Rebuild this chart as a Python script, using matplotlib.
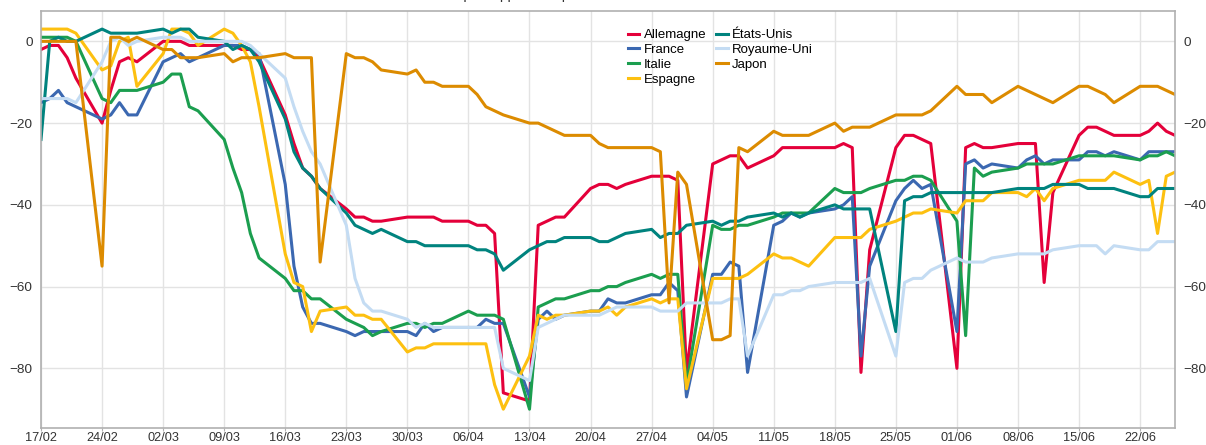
import matplotlib
matplotlib.use("Agg")
import matplotlib.pyplot as plt
import matplotlib.dates as mdates
import pandas as pd

plt.rcParams["font.family"] = ["Liberation Sans", "DejaVu Sans"]

# jours ouvrés du 17/02 au 26/06 (une ligne = une semaine)
dates = pd.bdate_range("2020-02-17", "2020-06-26")

allemagne = [-2, -1, -1, -4, -9,
             -20, -12, -5, -4, -5,
             0, 0, 0, -1, -1,
             -1, -1, -2, -2, -4,
             -18, -25, -31, -33, -36,
             -41, -43, -43, -44, -44,
             -43, -43, -43, -43, -44,
             -44, -45, -45, -47, -86,
             -88, -45, -44, -43, -43,
             -36, -35, -35, -36, -35,
             -33, -33, -33, -34, -81,
             -30, -29, -28, -28, -31,
             -28, -26, -26, -26, -26,
             -26, -25, -26, -81, -51,
             -26, -23, -23, -24, -25,
             -80, -26, -25, -26, -26,
             -25, -25, -25, -59, -37,
             -23, -21, -21, -22, -23,
             -23, -22, -20, -22, -23]

france = [-15, -14, -12, -15, -16,
          -19, -18, -15, -18, -18,
          -5, -4, -3, -5, -4,
          -1, -1, -1, -2, -3,
          -35, -55, -65, -69, -69,
          -71, -72, -71, -71, -71,
          -71, -72, -69, -71, -70,
          -70, -70, -68, -69, -69,
          -87, -68, -66, -68, -67,
          -66, -66, -63, -64, -64,
          -62, -62, -59, -61, -87,
          -57, -57, -54, -55, -81,
          -45, -44, -42, -43, -42,
          -41, -40, -38, -77, -55,
          -39, -36, -34, -36, -35,
          -71, -30, -29, -31, -30,
          -31, -29, -28, -30, -29,
          -29, -27, -27, -28, -27,
          -29, -27, -27, -27, -27]

italie = [1, 1, 1, 1, 0,
          -14, -15, -12, -12, -12,
          -10, -8, -8, -16, -17,
          -24, -31, -37, -47, -53,
          -58, -61, -61, -63, -63,
          -68, -69, -70, -72, -71,
          -69, -69, -70, -69, -69,
          -66, -67, -67, -67, -68,
          -90, -65, -64, -63, -63,
          -61, -61, -60, -60, -59,
          -57, -58, -57, -57, -84,
          -45, -46, -46, -45, -45,
          -43, -42, -42, -42, -42,
          -36, -37, -37, -37, -36,
          -34, -34, -33, -33, -34,
          -44, -72, -31, -33, -32,
          -31, -30, -30, -30, -30,
          -28, -28, -28, -28, -28,
          -29, -28, -28, -27, -28]

espagne = [3, 3, 3, 3, 2,
           -7, -6, 0, 1, -11,
           -3, 3, 3, 2, -1,
           3, 2, -1, -5, -16,
           -52, -59, -60, -71, -66,
           -65, -67, -67, -68, -68,
           -76, -75, -75, -74, -74,
           -74, -74, -74, -84, -90,
           -77, -67, -68, -67, -67,
           -66, -66, -65, -67, -65,
           -63, -64, -63, -63, -85,
           -58, -58, -58, -58, -57,
           -52, -53, -53, -54, -55,
           -48, -48, -48, -48, -46,
           -44, -43, -42, -42, -41,
           -42, -39, -39, -39, -37,
           -37, -38, -36, -39, -36,
           -34, -34, -34, -34, -32,
           -35, -34, -47, -33, -32]

etats_unis = [-24, 0, 1, 0, 0,
              3, 2, 2, 2, 2,
              3, 2, 3, 3, 1,
              0, -2, -1, -2, -5,
              -19, -27, -31, -33, -36,
              -42, -45, -46, -47, -46,
              -49, -49, -50, -50, -50,
              -50, -51, -51, -52, -56,
              -51, -50, -49, -49, -48,
              -48, -49, -49, -48, -47,
              -46, -48, -47, -47, -45,
              -44, -45, -44, -44, -43,
              -42, -43, -42, -43, -42,
              -40, -41, -41, -41, -41,
              -71, -39, -38, -38, -37,
              -37, -37, -37, -37, -37,
              -36, -36, -36, -36, -35,
              -35, -36, -36, -36, -36,
              -38, -38, -36, -36, -36]

royaume_uni = [-14, -14, -14, -14, -15,
               -5, 0, 1, -1, 0,
               1, 1, 1, 0, 0,
               0, 0, 0, -1, -3,
               -9, -16, -22, -27, -30,
               -45, -58, -64, -66, -66,
               -68, -70, -69, -70, -70,
               -70, -70, -70, -70, -80,
               -83, -70, -69, -68, -67,
               -67, -67, -66, -65, -65,
               -65, -66, -66, -66, -64,
               -64, -64, -63, -63, -77,
               -62, -62, -61, -61, -60,
               -59, -59, -59, -59, -58,
               -77, -59, -58, -58, -56,
               -53, -54, -54, -54, -53,
               -52, -52, -52, -52, -51,
               -50, -50, -50, -52, -50,
               -51, -51, -49, -49, -49]

japon = [0, 0, 0, 0, 0,
         -55, 1, 1, 0, 1,
         -2, -2, -4, -4, -4,
         -3, -5, -4, -4, -4,
         -3, -4, -4, -4, -54,
         -3, -4, -4, -5, -7,
         -8, -7, -10, -10, -11,
         -11, -13, -16, -17, -18,
         -20, -20, -21, -22, -23,
         -23, -25, -26, -26, -26,
         -26, -27, -64, -32, -35,
         -73, -73, -72, -26, -27,
         -22, -23, -23, -23, -23,
         -20, -22, -21, -21, -21,
         -18, -18, -18, -18, -17,
         -11, -13, -13, -13, -15,
         -11, -12, -13, -14, -15,
         -11, -11, -12, -13, -15,
         -11, -11, -11, -12, -13]

pays = ["Allemagne", "France", "Italie", "Espagne", "États-Unis", "Royaume-Uni", "Japon"]
valeurs = [allemagne, france, italie, espagne, etats_unis, royaume_uni, japon]
couleurs = ["#e4003a", "#3b68b1", "#1b9e4f", "#fdc010", "#00837e", "#c4dcf3", "#dc8b00"]

W, H = 1206, 445
fig = plt.figure(figsize=(W / 100, H / 100), dpi=100)
ax = fig.add_axes([41 / W, 1 - 428 / H, (1175 - 41) / W, (428 - 10.7) / H])

for nom, vals, col in zip(pays, valeurs, couleurs):
    ax.plot(dates, vals, color=col, lw=2.2, label=nom)

ax.set_xlim(dates[0], dates[-1])
ax.set_ylim(-94.6, 7.5)
ax.set_yticks([0, -20, -40, -60, -80])
ax.xaxis.set_major_locator(mdates.WeekdayLocator(byweekday=mdates.MO))
ax.xaxis.set_major_formatter(mdates.DateFormatter("%d/%m"))

ax.grid(True, color="#e3e3e3", lw=1)
ax.set_axisbelow(True)
for s in ax.spines.values():
    s.set_color("#b0b0b0")
    s.set_linewidth(1.2)

ax.tick_params(axis="x", length=2.5, color="#b0b0b0", pad=0.5, labelsize=9.2, labelcolor="#333333")
ax.tick_params(axis="y", length=0, pad=6, labelsize=9.7, labelcolor="#333333",
               labelleft=True, labelright=True)

ax.legend(loc="upper left", bbox_to_anchor=(628 / W, 1 - 29 / H), bbox_transform=fig.transFigure,
          ncol=2, frameon=False, fontsize=9.5, handlelength=0.85, handletextpad=0.35,
          columnspacing=0.75, labelspacing=0.2, borderpad=0, borderaxespad=0)

# titre coupé en haut de l'image
fig.text(0.42, 1 + 0.5 / H, "Lieux de travail : écart par rapport à la période de référence",
         ha="center", va="baseline", fontsize=10, color="#333333")

fig.savefig("out.png", dpi=100)
